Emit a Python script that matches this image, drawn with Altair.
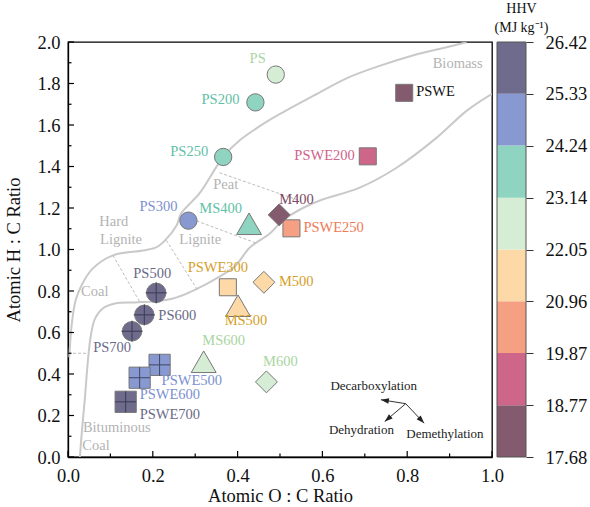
import math
import altair as alt
import pandas as pd

FONT = "Liberation Serif, Times New Roman, Times, serif"
W, H = 424, 415

# ---------------- data ----------------
names = ["PS", "PS200", "PS250", "PS300", "PS500", "PS600", "PS700",
         "MS400", "MS500", "MS600",
         "M400", "M500", "M600",
         "PSWE", "PSWE200", "PSWE250", "PSWE300", "PSWE500", "PSWE600", "PSWE700"]
oc_ratio = [0.490, 0.442, 0.366, 0.284, 0.208, 0.180, 0.151,
            0.427, 0.401, 0.320,
            0.498, 0.462, 0.468,
            0.793, 0.707, 0.527, 0.377, 0.216, 0.169, 0.136]
hc_ratio = [1.843, 1.709, 1.446, 1.139, 0.791, 0.685, 0.606,
            1.124, 0.729, 0.459,
            1.167, 0.842, 0.362,
            1.755, 1.449, 1.102, 0.818, 0.444, 0.382, 0.266]
hhv = [22.6, 23.7, 23.5, 24.9, 26.0, 26.2, 26.3,
       23.6, 21.4, 22.5,
       18.2, 21.5, 22.6,
       17.9, 19.3, 20.4, 21.6, 25.0, 25.2, 25.9]

hhv_edges = [17.68, 18.77, 19.87, 20.96, 22.05, 23.14, 24.24, 25.33, 26.42]
fill_colors = ["#845a6f", "#cd6688", "#f5a083", "#fdd9a8",
               "#d4edd4", "#8ed4c0", "#8799d0", "#6e6b8c"]
text_colors = ["#7b4a62", "#d0628a", "#f07a55", "#d4a02a",
               "#a9d5a0", "#5fc1a6", "#7d90d0", "#6a6a86"]

# Van Krevelen boundary curves
upper_oc = [0.003, 0.009, 0.018, 0.032, 0.058, 0.106, 0.177, 0.209, 0.232, 0.256,
            0.267, 0.310, 0.350, 0.366, 0.405, 0.468, 0.510, 0.578, 0.657, 0.735,
            0.813, 0.893, 0.940]
upper_hc = [0.480, 0.643, 0.755, 0.828, 0.908, 0.972, 0.995, 1.011, 1.051, 1.116,
            1.174, 1.270, 1.398, 1.446, 1.526, 1.615, 1.665, 1.740, 1.825, 1.885,
            1.935, 1.975, 1.999]
lower_oc = [0.028, 0.033, 0.040, 0.047, 0.054, 0.064, 0.082, 0.111, 0.158, 0.205,
            0.240, 0.276, 0.311, 0.346, 0.393, 0.429, 0.476, 0.506, 0.554, 0.594,
            0.688, 0.775, 0.869, 0.940, 1.000]
lower_hc = [0.000, 0.130, 0.288, 0.466, 0.587, 0.668, 0.716, 0.740, 0.745, 0.750,
            0.760, 0.784, 0.817, 0.856, 0.918, 1.010, 1.077, 1.139, 1.200, 1.236,
            1.298, 1.394, 1.538, 1.668, 1.750]

# dashed dividers
div_x1 = [0.000, 0.106, 0.232, 0.270, 0.357]
div_y1 = [0.500, 0.972, 1.044, 1.163, 1.370]
div_x2 = [0.047, 0.170, 0.306, 0.445, 0.547]
div_y2 = [0.500, 0.745, 0.803, 1.030, 1.235]

region_text = ["Biomass", "Peat", "Hard", "Lignite", "Lignite", "Coal", "Bituminous", "Coal"]
region_x = [0.919, 0.372, 0.108, 0.125, 0.312, 0.063, 0.115, 0.066]
region_y = [1.896, 1.309, 1.133, 1.044, 1.044, 0.795, 0.140, 0.052]

arrow_label = ["Decarboxylation", "Dehydration", "Demethylation"]
arrow_ox = [0.7965, 0.7965, 0.7965]
arrow_oy = [0.257, 0.257, 0.257]
arrow_tx = [0.738, 0.747, 0.840]
arrow_ty = [0.276, 0.171, 0.163]
arrow_text_x = [0.721, 0.692, 0.889]
arrow_text_y = [0.341, 0.129, 0.109]

x_ticks = [round(i * 0.1, 1) for i in range(11)]
y_ticks = [round(i * 0.1, 1) for i in range(21)]

# ---------------- tables ----------------
df = pd.DataFrame({"name": names, "oc": oc_ratio, "hc": hc_ratio, "hhv": hhv})
df["group"] = df["name"].str.extract(r"^(PSWE|PS|MS|M)")[0]
df["temp"] = df["name"].str.extract(r"(\d+)$")[0].astype(float).fillna(0)
df["cross"] = df["group"].isin(["PS", "PSWE"]) & (df["temp"] >= 500)

curves = pd.concat([
    pd.DataFrame({"curve": "upper", "i": range(len(upper_oc)), "oc": upper_oc, "hc": upper_hc}),
    pd.DataFrame({"curve": "lower", "i": range(len(lower_oc)), "oc": lower_oc, "hc": lower_hc}),
])
divs = pd.DataFrame({"x1": div_x1, "y1": div_y1, "x2": div_x2, "y2": div_y2})
regions = pd.DataFrame({"t": region_text, "oc": region_x, "hc": region_y})
arrows = pd.DataFrame({"label": arrow_label, "ox": arrow_ox, "oy": arrow_oy,
                       "tx": arrow_tx, "ty": arrow_ty,
                       "lx": arrow_text_x, "ly": arrow_text_y})
arrows["ang"] = [
    math.degrees(math.atan2((tx - ox) * W, (ty - oy) * H / 2)) % 360
    for ox, oy, tx, ty in zip(arrows.ox, arrows.oy, arrows.tx, arrows.ty)
]
xt = pd.DataFrame({"v": x_ticks})
xt["major"] = [abs(v * 5 - round(v * 5)) < 1e-6 for v in x_ticks]
yt = pd.DataFrame({"v": y_ticks})
yt["major"] = [abs(v * 5 - round(v * 5)) < 1e-6 for v in y_ticks]
cb = pd.DataFrame({"lo": hhv_edges[:-1], "hi": hhv_edges[1:]})
cb["mid"] = (cb["lo"] + cb["hi"]) / 2
cb_frame = pd.DataFrame({"lo": [hhv_edges[0]], "hi": [hhv_edges[-1]]})

# ---------------- scales ----------------
xs = alt.Scale(domain=[0, 1], nice=False, zero=False)
ys = alt.Scale(domain=[0, 2], nice=False, zero=False)
fill_scale = alt.Scale(type="threshold", domain=hhv_edges[1:-1], range=fill_colors)
text_scale = alt.Scale(type="threshold", domain=hhv_edges[1:-1], range=text_colors)

X = lambda f: alt.X(f, scale=xs)
Y = lambda f: alt.Y(f, scale=ys)

# axes layer (invisible points carrying the axes)
x_axis = alt.Axis(title="Atomic O : C Ratio", values=[0, 0.2, 0.4, 0.6, 0.8, 1.0], format=".1f",
                  ticks=False, tickSize=0, grid=False, labelFlush=False,
                  labelFont=FONT, labelFontSize=18.5, labelColor="#111", labelPadding=9,
                  titleFont=FONT, titleFontSize=18.5, titleFontWeight="normal", titleColor="#111",
                  titlePadding=2, domainColor="#000", domainWidth=1.3)
y_axis = alt.Axis(title="Atomic H : C Ratio", values=[0, 0.2, 0.4, 0.6, 0.8, 1.0, 1.2, 1.4, 1.6, 1.8, 2.0],
                  format=".1f", ticks=False, tickSize=0, grid=False,
                  labelFont=FONT, labelFontSize=18.5, labelColor="#111", labelPadding=8,
                  titleFont=FONT, titleFontSize=18.5, titleFontWeight="normal", titleColor="#111",
                  titlePadding=13, domainColor="#000", domainWidth=1.3)
axes_layer = alt.Chart(df).mark_point(opacity=0).encode(
    x=alt.X("oc:Q", scale=xs, axis=x_axis),
    y=alt.Y("hc:Q", scale=ys, axis=y_axis),
)

# ticks (inward)
def tick_layers():
    out = []
    for major, L in [(True, 6), (False, 3.5)]:
        out.append(alt.Chart(xt).transform_filter(alt.datum.major == major).mark_rule(
            color="#000", strokeWidth=1.2).encode(
            x=X("v:Q"), y=alt.value(H), y2=alt.value(H - L)))
        out.append(alt.Chart(yt).transform_filter(alt.datum.major == major).mark_rule(
            color="#000", strokeWidth=1.2).encode(
            y=Y("v:Q"), x=alt.value(0), x2=alt.value(L)))
    return out

curve_layer = alt.Chart(curves).mark_line(
    color="#c9c9c9", strokeWidth=2, interpolate="catmull-rom", clip=True).encode(
    x=X("oc:Q"), y=Y("hc:Q"), detail="curve:N", order="i:Q")

div_layer = alt.Chart(divs).mark_rule(color="#bdbdbd", strokeWidth=1, strokeDash=[3, 2]).encode(
    x=X("x1:Q"), y=Y("y1:Q"), x2="x2:Q", y2="y2:Q")

region_layer = alt.Chart(regions).mark_text(
    font=FONT, fontSize=14.5, color="#b3b3b3", align="center", baseline="middle").encode(
    x=X("oc:Q"), y=Y("hc:Q"), text="t:N")

def markers(group, shape, size, cross=None):
    data = alt.Chart(df).transform_filter(alt.datum.group == group)
    if cross is not None:
        data = data.transform_filter(alt.datum.cross == cross)
    return data.mark_point(shape=shape, size=size, filled=True, opacity=1,
                           stroke="#777777", strokeWidth=1).encode(
        x=X("oc:Q"), y=Y("hc:Q"),
        fill=alt.Fill("hhv:Q", scale=fill_scale, legend=None))

marker_layers = [
    markers("PS", "circle", 300, False),
    markers("PS", "circle", 380, True),
    markers("PSWE", "square", 290, False),
    markers("PSWE", "square", 450, True),
    markers("MS", "triangle-up", 620),
    markers("M", "diamond", 480),
]

cross_layer = alt.Chart(df).transform_filter(alt.datum.cross == True).mark_point(
    shape="M-1,0L1,0M0,-1L0,1", size=450, filled=False, stroke="#2b2b40",
    strokeWidth=1, opacity=0.75).encode(x=X("oc:Q"), y=Y("hc:Q"))

label_pos = {
    "PS": (-10, -16, "right"), "PS200": (-16, -2, "right"), "PS250": (-15, -5, "right"),
    "PS300": (-11, -14, "right"), "PS500": (-4, -19, "center"), "PS600": (14, 1, "left"),
    "PS700": (-1, 17, "right"), "MS400": (-7, -15, "right"), "MS500": (8, 15, "center"),
    "MS600": (20, -21, "center"), "M400": (0, -15, "left"), "M500": (15, 0, "left"),
    "M600": (14, -20, "center"), "PSWE": (12, -1, "left"), "PSWE200": (-13, 0, "right"),
    "PSWE250": (12, 0, "left"), "PSWE300": (-10, -19, "center"), "PSWE500": (2, 16, "left"),
    "PSWE600": (0, 17, "left"), "PSWE700": (14, 13, "left"),
}
label_layers = []
for nm, (dx, dy, al) in label_pos.items():
    label_layers.append(
        alt.Chart(df).transform_filter(alt.datum.name == nm).mark_text(
            font=FONT, fontSize=14.5, dx=dx, dy=dy, align=al, baseline="middle").encode(
            x=X("oc:Q"), y=Y("hc:Q"), text="name:N",
            color=alt.condition(alt.datum.name == "PSWE", alt.value("#111111"),
                                alt.Color("hhv:Q", scale=text_scale, legend=None)))
    )

arrow_shaft = alt.Chart(arrows).mark_rule(color="#333", strokeWidth=1).encode(
    x=X("ox:Q"), y=Y("oy:Q"), x2="tx:Q", y2="ty:Q")
arrow_head = alt.Chart(arrows).mark_point(
    shape="M0,0L-0.5,1.4L0.5,1.4Z", size=130, filled=True, color="#222", opacity=1).encode(
    x=X("tx:Q"), y=Y("ty:Q"), angle=alt.Angle("ang:Q", scale=None))
arrow_text = alt.Chart(arrows).mark_text(font=FONT, fontSize=13, color="#222",
                                         baseline="middle").encode(
    x=X("lx:Q"), y=Y("ly:Q"), text="label:N")

main = alt.layer(axes_layer, curve_layer, div_layer, region_layer, *tick_layers(),
                 *marker_layers, cross_layer, *label_layers,
                 arrow_shaft, arrow_head, arrow_text)

# colour bar
cbs = alt.Scale(domain=[hhv_edges[0], hhv_edges[-1]], nice=False, zero=False)
cb_axis = alt.Axis(orient="right", offset=34, values=hhv_edges, format=".2f",
                   tickSize=7, tickColor="#333", tickWidth=1, domain=False, grid=False,
                   labelFont=FONT, labelFontSize=18.5, labelColor="#111", labelPadding=12,
                   title=["HHV", "(MJ kg\u207b\u00b9)"], titleAngle=0, titleFont=FONT,
                   titleFontSize=14, titleFontWeight="normal", titleColor="#111",
                   titleAlign="center", titleBaseline="alphabetic",
                   titleX=-5, titleY=-30, titleLineHeight=19)
cb_rect = alt.Chart(cb).mark_rect().encode(
    x=alt.value(W + 5), x2=alt.value(W + 34),
    y=alt.Y("lo:Q", scale=cbs, axis=cb_axis), y2="hi:Q",
    fill=alt.Fill("mid:Q", scale=fill_scale, legend=None))
cb_border = alt.Chart(cb_frame).mark_rect(fillOpacity=0, stroke="#555", strokeWidth=1).encode(
    x=alt.value(W + 5), x2=alt.value(W + 34),
    y=alt.Y("lo:Q", scale=cbs), y2="hi:Q")
colorbar = alt.layer(cb_rect, cb_border)

chart = alt.layer(main, colorbar).resolve_scale(y="independent").properties(
    width=W, height=H, autosize="none",
    padding={"left": 68, "top": 42, "right": 98, "bottom": 50},
).configure(font=FONT).configure_axis(
    labelFont=FONT, titleFont=FONT, titleFontWeight="normal"
).configure_text(font=FONT).configure_view(stroke="#000", strokeWidth=1.3)

chart.save("out.html", embed_options={"renderer": "svg", "actions": False})
